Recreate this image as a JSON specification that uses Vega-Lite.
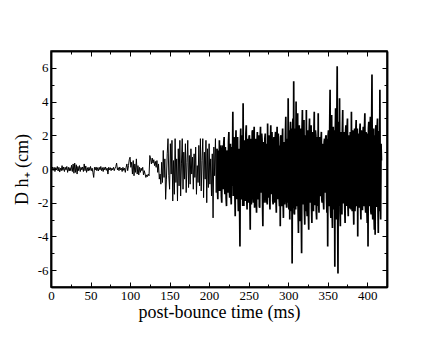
{
  "$schema": "https://vega.github.io/schema/vega-lite/v6.json",
  "autosize": {"type": "none"},
  "width": 336,
  "height": 236,
  "padding": {"left": 51, "top": 51, "right": 49, "bottom": 50},
  "background": "white",
  "config": {
    "view": {"stroke": "black", "strokeWidth": 1.5},
    "axis": {
      "grid": false,
      "labelFont": "Liberation Serif, Times New Roman, serif",
      "titleFont": "Liberation Serif, Times New Roman, serif",
      "labelFontSize": 13,
      "titleFontSize": 18,
      "titleFontWeight": "normal",
      "labelColor": "black",
      "titleColor": "black",
      "tickColor": "black",
      "domainColor": "black",
      "domainWidth": 1.5,
      "tickWidth": 1
    }
  },
  "datasets": {
    "d": [
{"t":0,"v":0.05},{"t":1,"v":-0.1},{"t":2,"v":0.12},{"t":3,"v":-0.08},{"t":4,"v":0.1},{"t":5,"v":-0.15},{"t":6,"v":0.08},{"t":7,"v":-0.05},{"t":8,"v":0.15},{"t":9,"v":-0.12},
{"t":10,"v":0.1},{"t":11,"v":-0.18},{"t":12,"v":0.05},{"t":13,"v":-0.1},{"t":14,"v":0.2},{"t":15,"v":-0.08},{"t":16,"v":0.12},{"t":17,"v":-0.15},{"t":18,"v":0.1},{"t":19,"v":-0.05},
{"t":20,"v":0.15},{"t":21,"v":-0.2},{"t":22,"v":0.1},{"t":23,"v":-0.12},{"t":24,"v":0.08},{"t":25,"v":-0.1},{"t":26,"v":0.22},{"t":27,"v":-0.15},{"t":28,"v":0.3},{"t":29,"v":-0.25},
{"t":30,"v":0.35},{"t":31,"v":-0.2},{"t":32,"v":0.25},{"t":33,"v":-0.3},{"t":34,"v":0.15},{"t":35,"v":-0.1},{"t":36,"v":0.2},{"t":37,"v":-0.15},{"t":38,"v":0.1},{"t":39,"v":-0.05},
{"t":40,"v":0.12},{"t":41,"v":-0.15},{"t":42,"v":0.3},{"t":43,"v":-0.1},{"t":44,"v":0.18},{"t":45,"v":-0.2},{"t":46,"v":0.08},{"t":47,"v":-0.12},{"t":48,"v":0.1},{"t":49,"v":-0.08},
{"t":50,"v":0.15},{"t":51,"v":-0.1},{"t":52,"v":0.05},{"t":53,"v":-0.2},{"t":54,"v":-0.5},{"t":55,"v":0.1},{"t":56,"v":-0.05},{"t":57,"v":0.12},{"t":58,"v":-0.1},{"t":59,"v":0.08},
{"t":60,"v":-0.12},{"t":61,"v":0.1},{"t":62,"v":-0.05},{"t":63,"v":0.15},{"t":64,"v":-0.1},{"t":65,"v":0.08},{"t":66,"v":-0.15},{"t":67,"v":0.1},{"t":68,"v":-0.05},{"t":69,"v":0.12},
{"t":70,"v":-0.08},{"t":71,"v":0.05},{"t":72,"v":-0.3},{"t":73,"v":0.1},{"t":74,"v":-0.05},{"t":75,"v":0.08},{"t":76,"v":-0.1},{"t":77,"v":0.05},{"t":78,"v":-0.05},{"t":79,"v":0.1},
{"t":80,"v":-0.1},{"t":81,"v":0.05},{"t":82,"v":0.15},{"t":83,"v":0.35},{"t":84,"v":-0.05},{"t":85,"v":0.08},{"t":86,"v":-0.1},{"t":87,"v":0.12},{"t":88,"v":-0.05},{"t":89,"v":0.05},
{"t":90,"v":-0.15},{"t":91,"v":0.1},{"t":92,"v":-0.08},{"t":93,"v":0.05},{"t":94,"v":-0.2},{"t":95,"v":0.1},{"t":96,"v":0.3},{"t":97,"v":-0.1},{"t":98,"v":0.2},{"t":99,"v":0.55},
{"t":100,"v":0.7},{"t":101,"v":0.1},{"t":102,"v":0.4},{"t":103,"v":-0.3},{"t":104,"v":0.5},{"t":105,"v":-0.4},{"t":106,"v":0.3},{"t":107,"v":-0.2},{"t":108,"v":0.6},{"t":109,"v":-0.3},
{"t":110,"v":0.2},{"t":111,"v":-0.35},{"t":112,"v":0.1},{"t":113,"v":-0.2},{"t":114,"v":0.05},{"t":115,"v":-0.1},{"t":116,"v":0.1},{"t":117,"v":-0.35},{"t":118,"v":-0.1},{"t":119,"v":-0.3},
{"t":120,"v":-0.5},{"t":121,"v":-0.35},{"t":122,"v":-0.45},{"t":123,"v":-0.3},{"t":124,"v":-0.4},{"t":125,"v":0.8},{"t":126,"v":0.6},{"t":127,"v":0.3},{"t":128,"v":0.65},{"t":129,"v":0.35},
{"t":130,"v":0.55},{"t":131,"v":0.2},{"t":132,"v":0.45},{"t":133,"v":0.1},{"t":134,"v":0.5},{"t":135,"v":-0.2},{"t":136,"v":0.3},{"t":137,"v":-0.6},{"t":138,"v":-0.3},{"t":139,"v":-0.9},
{"t":140,"v":0.4},{"t":141,"v":-0.8},{"t":142,"v":1.1},{"t":143,"v":-0.5},{"t":144,"v":0.6},{"t":145,"v":-1.8},{"t":146,"v":-0.6},{"t":147,"v":0.9},{"t":148,"v":1.8},{"t":149,"v":-0.4},
{"t":150,"v":-1.2},{"t":151,"v":1.5},{"t":152,"v":-0.3},{"t":153,"v":1.7},{"t":154,"v":-1.9},{"t":155,"v":0.5},{"t":156,"v":-1.5},{"t":157,"v":1.8},{"t":158,"v":-0.8},{"t":159,"v":0.6},
{"t":160,"v":-1.9},{"t":161,"v":1.2},{"t":162,"v":-1.0},{"t":163,"v":1.7},{"t":164,"v":-1.6},{"t":165,"v":0.3},{"t":166,"v":1.8},{"t":167,"v":-1.2},{"t":168,"v":1.0},{"t":169,"v":-0.6},
{"t":170,"v":1.5},{"t":171,"v":-1.4},{"t":172,"v":0.4},{"t":173,"v":1.7},{"t":174,"v":-1.1},{"t":175,"v":0.8},{"t":176,"v":-0.9},{"t":177,"v":1.2},{"t":178,"v":-0.3},{"t":179,"v":0.7},
{"t":180,"v":-1.2},{"t":181,"v":0.9},{"t":182,"v":-0.5},{"t":183,"v":1.3},{"t":184,"v":-1.5},{"t":185,"v":0.2},{"t":186,"v":-0.8},{"t":187,"v":1.4},{"t":188,"v":-1.0},{"t":189,"v":1.8},
{"t":190,"v":-1.3},{"t":191,"v":0.5},{"t":192,"v":1.8},{"t":193,"v":-1.7},{"t":194,"v":1.0},{"t":195,"v":-0.6},{"t":196,"v":1.7},{"t":197,"v":-2.0},{"t":198,"v":1.2},{"t":199,"v":-1.1},
{"t":200,"v":1.5},{"t":201,"v":-0.9},{"t":202,"v":0.6},{"t":203,"v":-1.6},{"t":204,"v":0.9},{"t":205,"v":-2.9},{"t":206,"v":1.3},{"t":207,"v":-0.4},{"t":208,"v":1.8},{"t":209,"v":-1.4},
{"t":210,"v":1.2},{"t":211,"v":-1.8},{"t":212,"v":0.5},{"t":213,"v":1.7},{"t":214,"v":-1.3},{"t":215,"v":0.8},{"t":216,"v":-2.0},{"t":217,"v":1.4},{"t":218,"v":-0.7},{"t":219,"v":1.9},
{"t":220,"v":-1.5},{"t":221,"v":0.6},{"t":222,"v":-2.2},{"t":223,"v":1.1},{"t":224,"v":-0.8},{"t":225,"v":2.2},{"t":226,"v":-1.7},{"t":227,"v":1.5},{"t":228,"v":-2.1},{"t":229,"v":0.9},
{"t":230,"v":3.4},{"t":231,"v":-1.4},{"t":232,"v":1.6},{"t":233,"v":-2.8},{"t":234,"v":2.3},{"t":235,"v":-1.0},{"t":236,"v":1.9},{"t":237,"v":-2.5},{"t":238,"v":1.2},{"t":239,"v":-4.6},
{"t":240,"v":2.4},{"t":241,"v":-1.8},{"t":242,"v":1.5},{"t":243,"v":3.9},{"t":244,"v":-2.2},{"t":245,"v":0.8},{"t":246,"v":-1.5},{"t":247,"v":2.6},{"t":248,"v":-2.4},{"t":249,"v":1.1},
{"t":250,"v":-1.2},{"t":251,"v":2.0},{"t":252,"v":-3.6},{"t":253,"v":1.8},{"t":254,"v":-0.9},{"t":255,"v":2.3},{"t":256,"v":-2.0},{"t":257,"v":2.5},{"t":258,"v":-1.3},{"t":259,"v":1.0},
{"t":260,"v":-2.6},{"t":261,"v":2.2},{"t":262,"v":-1.6},{"t":263,"v":1.4},{"t":264,"v":-2.3},{"t":265,"v":2.5},{"t":266,"v":-0.8},{"t":267,"v":1.7},{"t":268,"v":-3.4},{"t":269,"v":1.2},
{"t":270,"v":-1.1},{"t":271,"v":2.1},{"t":272,"v":-2.0},{"t":273,"v":0.9},{"t":274,"v":2.7},{"t":275,"v":-1.5},{"t":276,"v":1.8},{"t":277,"v":-2.4},{"t":278,"v":2.6},{"t":279,"v":-1.2},
{"t":280,"v":1.0},{"t":281,"v":-2.1},{"t":282,"v":1.9},{"t":283,"v":-1.4},{"t":284,"v":2.2},{"t":285,"v":-2.6},{"t":286,"v":2.5},{"t":287,"v":-1.0},{"t":288,"v":1.3},{"t":289,"v":-2.2},
{"t":290,"v":-3.4},{"t":291,"v":2.0},{"t":292,"v":-1.7},{"t":293,"v":2.4},{"t":294,"v":-2.9},{"t":295,"v":1.6},{"t":296,"v":-1.2},{"t":297,"v":3.1},{"t":298,"v":-2.3},{"t":299,"v":1.8},
{"t":300,"v":4.2},{"t":301,"v":-2.4},{"t":302,"v":-3.0},{"t":303,"v":2.8},{"t":304,"v":-1.9},{"t":305,"v":-5.6},{"t":306,"v":3.0},{"t":307,"v":5.2},{"t":308,"v":-2.7},{"t":309,"v":2.4},
{"t":310,"v":4.0},{"t":311,"v":-2.2},{"t":312,"v":3.3},{"t":313,"v":-3.8},{"t":314,"v":2.6},{"t":315,"v":-3.1},{"t":316,"v":1.9},{"t":317,"v":-5.0},{"t":318,"v":3.5},{"t":319,"v":-2.0},
{"t":320,"v":2.9},{"t":321,"v":-3.3},{"t":322,"v":1.5},{"t":323,"v":3.5},{"t":324,"v":-2.8},{"t":325,"v":2.2},{"t":326,"v":-3.6},{"t":327,"v":3.0},{"t":328,"v":-1.8},{"t":329,"v":2.6},
{"t":330,"v":-3.2},{"t":331,"v":1.8},{"t":332,"v":-2.5},{"t":333,"v":3.4},{"t":334,"v":-2.1},{"t":335,"v":2.0},{"t":336,"v":-3.0},{"t":337,"v":1.6},{"t":338,"v":3.3},{"t":339,"v":-2.6},
{"t":340,"v":1.9},{"t":341,"v":-1.5},{"t":342,"v":2.2},{"t":343,"v":-2.0},{"t":344,"v":1.2},{"t":345,"v":-2.4},{"t":346,"v":1.8},{"t":347,"v":-1.1},{"t":348,"v":2.0},{"t":349,"v":-2.6},
{"t":350,"v":-4.6},{"t":351,"v":2.3},{"t":352,"v":-1.8},{"t":353,"v":4.7},{"t":354,"v":-2.9},{"t":355,"v":3.2},{"t":356,"v":-3.5},{"t":357,"v":2.5},{"t":358,"v":-2.2},{"t":359,"v":-5.8},
{"t":360,"v":3.6},{"t":361,"v":-3.0},{"t":362,"v":6.1},{"t":363,"v":-6.2},{"t":364,"v":2.8},{"t":365,"v":4.2},{"t":366,"v":-3.4},{"t":367,"v":2.2},{"t":368,"v":-2.7},{"t":369,"v":3.5},
{"t":370,"v":-2.0},{"t":371,"v":1.8},{"t":372,"v":-3.2},{"t":373,"v":2.6},{"t":374,"v":-1.5},{"t":375,"v":3.0},{"t":376,"v":-2.8},{"t":377,"v":1.4},{"t":378,"v":-2.3},{"t":379,"v":2.1},
{"t":380,"v":3.4},{"t":381,"v":-2.5},{"t":382,"v":1.7},{"t":383,"v":-3.3},{"t":384,"v":2.4},{"t":385,"v":-1.8},{"t":386,"v":2.9},{"t":387,"v":-2.2},{"t":388,"v":-4.0},{"t":389,"v":2.0},
{"t":390,"v":-1.6},{"t":391,"v":2.7},{"t":392,"v":-3.0},{"t":393,"v":1.9},{"t":394,"v":-2.4},{"t":395,"v":2.5},{"t":396,"v":-1.9},{"t":397,"v":3.3},{"t":398,"v":-2.6},{"t":399,"v":1.5},
{"t":400,"v":-3.2},{"t":401,"v":-4.6},{"t":402,"v":2.8},{"t":403,"v":-2.0},{"t":404,"v":3.1},{"t":405,"v":-2.7},{"t":406,"v":5.6},{"t":407,"v":-3.0},{"t":408,"v":2.4},{"t":409,"v":-3.6},
{"t":410,"v":-3.9},{"t":411,"v":2.6},{"t":412,"v":-2.2},{"t":413,"v":3.0},{"t":414,"v":-3.8},{"t":415,"v":2.2},{"t":416,"v":4.7},{"t":417,"v":-3.0},{"t":418,"v":0.5},
{"t":210.5,"v":-1.0},{"t":211.5,"v":1.1},{"t":212.5,"v":-1.3},{"t":213.5,"v":-0.8},{"t":214.5,"v":1.4},{"t":215.5,"v":-1.6},{"t":216.5,"v":0.9},{"t":217.5,"v":-1.2},{"t":218.5,"v":1.5},{"t":219.5,"v":-1.1},
{"t":220.5,"v":1.3},{"t":221.5,"v":-1.7},{"t":222.5,"v":1.0},{"t":223.5,"v":-1.4},{"t":224.5,"v":1.6},{"t":225.5,"v":-1.2},{"t":226.5,"v":0.8},{"t":227.5,"v":-1.5},{"t":228.5,"v":1.3},{"t":229.5,"v":-1.0},
{"t":230.5,"v":-1.6},{"t":231.5,"v":1.9},{"t":232.5,"v":-1.3},{"t":233.5,"v":1.2},{"t":234.5,"v":-1.8},{"t":235.5,"v":1.5},{"t":236.5,"v":-1.4},{"t":237.5,"v":1.1},{"t":238.5,"v":-2.0},{"t":239.5,"v":1.6},
{"t":240.5,"v":-1.5},{"t":241.5,"v":2.0},{"t":242.5,"v":-2.2},{"t":243.5,"v":-1.4},{"t":244.5,"v":1.7},{"t":245.5,"v":-1.9},{"t":246.5,"v":2.1},{"t":247.5,"v":-1.6},{"t":248.5,"v":1.8},{"t":249.5,"v":-2.0},
{"t":250.5,"v":1.9},{"t":251.5,"v":-1.7},{"t":252.5,"v":1.4},{"t":253.5,"v":-2.1},{"t":254.5,"v":2.2},{"t":255.5,"v":-1.5},{"t":256.5,"v":1.6},{"t":257.5,"v":-2.3},{"t":258.5,"v":1.8},{"t":259.5,"v":-1.9},
{"t":260.5,"v":1.5},{"t":261.5,"v":-1.8},{"t":262.5,"v":2.0},{"t":263.5,"v":-2.2},{"t":264.5,"v":1.7},{"t":265.5,"v":-1.4},{"t":266.5,"v":2.1},{"t":267.5,"v":-1.9},{"t":268.5,"v":1.6},{"t":269.5,"v":-2.0},
{"t":270.5,"v":1.8},{"t":271.5,"v":-1.6},{"t":272.5,"v":1.5},{"t":273.5,"v":-2.1},{"t":274.5,"v":-1.7},{"t":275.5,"v":2.0},{"t":276.5,"v":-1.8},{"t":277.5,"v":1.4},{"t":278.5,"v":-1.5},{"t":279.5,"v":2.2},
{"t":280.5,"v":-1.9},{"t":281.5,"v":1.6},{"t":282.5,"v":-2.0},{"t":283.5,"v":1.8},{"t":284.5,"v":-1.6},{"t":285.5,"v":1.5},{"t":286.5,"v":-1.8},{"t":287.5,"v":2.1},{"t":288.5,"v":-1.7},{"t":289.5,"v":1.4},
{"t":290.5,"v":1.9},{"t":291.5,"v":-2.2},{"t":292.5,"v":1.6},{"t":293.5,"v":-1.8},{"t":294.5,"v":1.5},{"t":295.5,"v":-2.1},{"t":296.5,"v":2.0},{"t":297.5,"v":-1.6},{"t":298.5,"v":1.7},{"t":299.5,"v":-2.0},
{"t":300.5,"v":-2.2},{"t":301.5,"v":2.3},{"t":302.5,"v":2.0},{"t":303.5,"v":-2.5},{"t":304.5,"v":2.4},{"t":305.5,"v":2.1},{"t":306.5,"v":-2.3},{"t":307.5,"v":-2.6},{"t":308.5,"v":2.2},{"t":309.5,"v":-2.4},
{"t":310.5,"v":-2.0},{"t":311.5,"v":2.5},{"t":312.5,"v":-2.3},{"t":313.5,"v":2.1},{"t":314.5,"v":-2.6},{"t":315.5,"v":2.4},{"t":316.5,"v":-2.2},{"t":317.5,"v":2.3},{"t":318.5,"v":-2.1},{"t":319.5,"v":2.6},
{"t":320.5,"v":-2.4},{"t":321.5,"v":2.0},{"t":322.5,"v":-2.5},{"t":323.5,"v":-2.2},{"t":324.5,"v":2.3},{"t":325.5,"v":-2.6},{"t":326.5,"v":2.1},{"t":327.5,"v":-2.0},{"t":328.5,"v":2.4},{"t":329.5,"v":-2.3},
{"t":330.5,"v":2.2},{"t":331.5,"v":-2.4},{"t":332.5,"v":2.0},{"t":333.5,"v":-2.1},{"t":334.5,"v":2.3},{"t":335.5,"v":-2.5},{"t":336.5,"v":1.9},{"t":337.5,"v":-2.2},{"t":338.5,"v":-2.0},{"t":339.5,"v":1.8},
{"t":340.5,"v":-1.6},{"t":341.5,"v":1.7},{"t":342.5,"v":-1.8},{"t":343.5,"v":1.5},{"t":344.5,"v":-1.9},{"t":345.5,"v":1.6},{"t":346.5,"v":-1.4},{"t":347.5,"v":1.9},{"t":348.5,"v":-1.7},{"t":349.5,"v":1.8},
{"t":350.5,"v":2.0},{"t":351.5,"v":-2.2},{"t":352.5,"v":2.4},{"t":353.5,"v":-2.3},{"t":354.5,"v":2.1},{"t":355.5,"v":-2.5},{"t":356.5,"v":2.2},{"t":357.5,"v":-2.4},{"t":358.5,"v":2.3},{"t":359.5,"v":2.0},
{"t":360.5,"v":-2.6},{"t":361.5,"v":2.5},{"t":362.5,"v":-2.3},{"t":363.5,"v":2.4},{"t":364.5,"v":-2.2},{"t":365.5,"v":-2.5},{"t":366.5,"v":2.1},{"t":367.5,"v":-2.4},{"t":368.5,"v":2.3},{"t":369.5,"v":-2.0},
{"t":370.5,"v":2.2},{"t":371.5,"v":-2.3},{"t":372.5,"v":2.1},{"t":373.5,"v":-2.2},{"t":374.5,"v":2.4},{"t":375.5,"v":-2.1},{"t":376.5,"v":2.0},{"t":377.5,"v":-2.3},{"t":378.5,"v":2.2},{"t":379.5,"v":-2.4},
{"t":380.5,"v":-2.0},{"t":381.5,"v":2.3},{"t":382.5,"v":-2.2},{"t":383.5,"v":2.1},{"t":384.5,"v":-2.5},{"t":385.5,"v":2.2},{"t":386.5,"v":-2.0},{"t":387.5,"v":2.4},{"t":388.5,"v":2.1},{"t":389.5,"v":-2.3},
{"t":390.5,"v":2.2},{"t":391.5,"v":-2.1},{"t":392.5,"v":2.3},{"t":393.5,"v":-2.4},{"t":394.5,"v":2.0},{"t":395.5,"v":-2.2},{"t":396.5,"v":2.4},{"t":397.5,"v":-2.1},{"t":398.5,"v":2.2},{"t":399.5,"v":-2.3},
{"t":400.5,"v":2.1},{"t":401.5,"v":2.4},{"t":402.5,"v":-2.2},{"t":403.5,"v":2.3},{"t":404.5,"v":-2.5},{"t":405.5,"v":2.2},{"t":406.5,"v":-2.4},{"t":407.5,"v":2.1},{"t":408.5,"v":-2.6},{"t":409.5,"v":2.0},
{"t":410.5,"v":2.3},{"t":411.5,"v":-2.2},{"t":412.5,"v":2.4},{"t":413.5,"v":-2.1},{"t":414.5,"v":2.2},{"t":415.5,"v":-2.5},{"t":416.5,"v":-2.2},{"t":417.5,"v":1.5}
    ]
  },
  "data": {"name": "d"},
  "resolve": {"axis": {"x": "independent", "y": "independent"}},
  "layer": [
    {
      "transform": [{"filter": "datum.t <= 210"}],
      "mark": {"type": "line", "color": "black", "strokeWidth": 1, "clip": true},
      "encoding": {
        "x": {"field": "t", "type": "quantitative", "scale": {"domain": [0, 425], "nice": false, "zero": false},
          "axis": {"orient": "bottom", "values": [0,50,100,150,200,250,300,350,400], "tickSize": -5, "labelPadding": 7, "title": "post-bounce time (ms)", "titlePadding": 1, "labelFlush": false}},
        "y": {"field": "v", "type": "quantitative", "scale": {"domain": [-7, 7], "nice": false, "zero": false},
          "axis": {"orient": "left", "values": [-6,-4,-2,0,2,4,6], "tickSize": -5, "labelPadding": 8, "labelExpr": "'' + datum.value", "title": "D h₊ (cm)", "titlePadding": 6}}
      }
    },
    {
      "transform": [{"filter": "datum.t >= 210"}],
      "mark": {"type": "line", "color": "black", "strokeWidth": 1.7, "clip": true},
      "encoding": {
        "x": {"field": "t", "type": "quantitative", "axis": null},
        "y": {"field": "v", "type": "quantitative", "axis": null}
      }
    },
    {
      "mark": {"type": "line", "opacity": 0},
      "encoding": {
        "x": {"field": "t", "type": "quantitative",
          "axis": {"orient": "top", "values": [0,50,100,150,200,250,300,350,400], "tickSize": -5, "labels": false, "title": null}},
        "y": {"field": "v", "type": "quantitative",
          "axis": {"orient": "right", "values": [-6,-4,-2,0,2,4,6], "tickSize": -5, "labels": false, "title": null}}
      }
    },
    {
      "mark": {"type": "line", "opacity": 0},
      "encoding": {
        "x": {"field": "t", "type": "quantitative",
          "axis": {"orient": "bottom", "values": [25,75,125,175,225,275,325,375,425], "tickSize": -3, "labels": false, "title": null}},
        "y": {"field": "v", "type": "quantitative",
          "axis": {"orient": "left", "values": [-7,-5,-3,-1,1,3,5,7], "tickSize": -3, "labels": false, "title": null}}
      }
    },
    {
      "mark": {"type": "line", "opacity": 0},
      "encoding": {
        "x": {"field": "t", "type": "quantitative",
          "axis": {"orient": "top", "values": [25,75,125,175,225,275,325,375], "tickSize": -3, "labels": false, "title": null}},
        "y": {"field": "v", "type": "quantitative",
          "axis": {"orient": "right", "values": [-5,-3,-1,1,3,5], "tickSize": -3, "labels": false, "title": null}}
      }
    }
  ]
}
